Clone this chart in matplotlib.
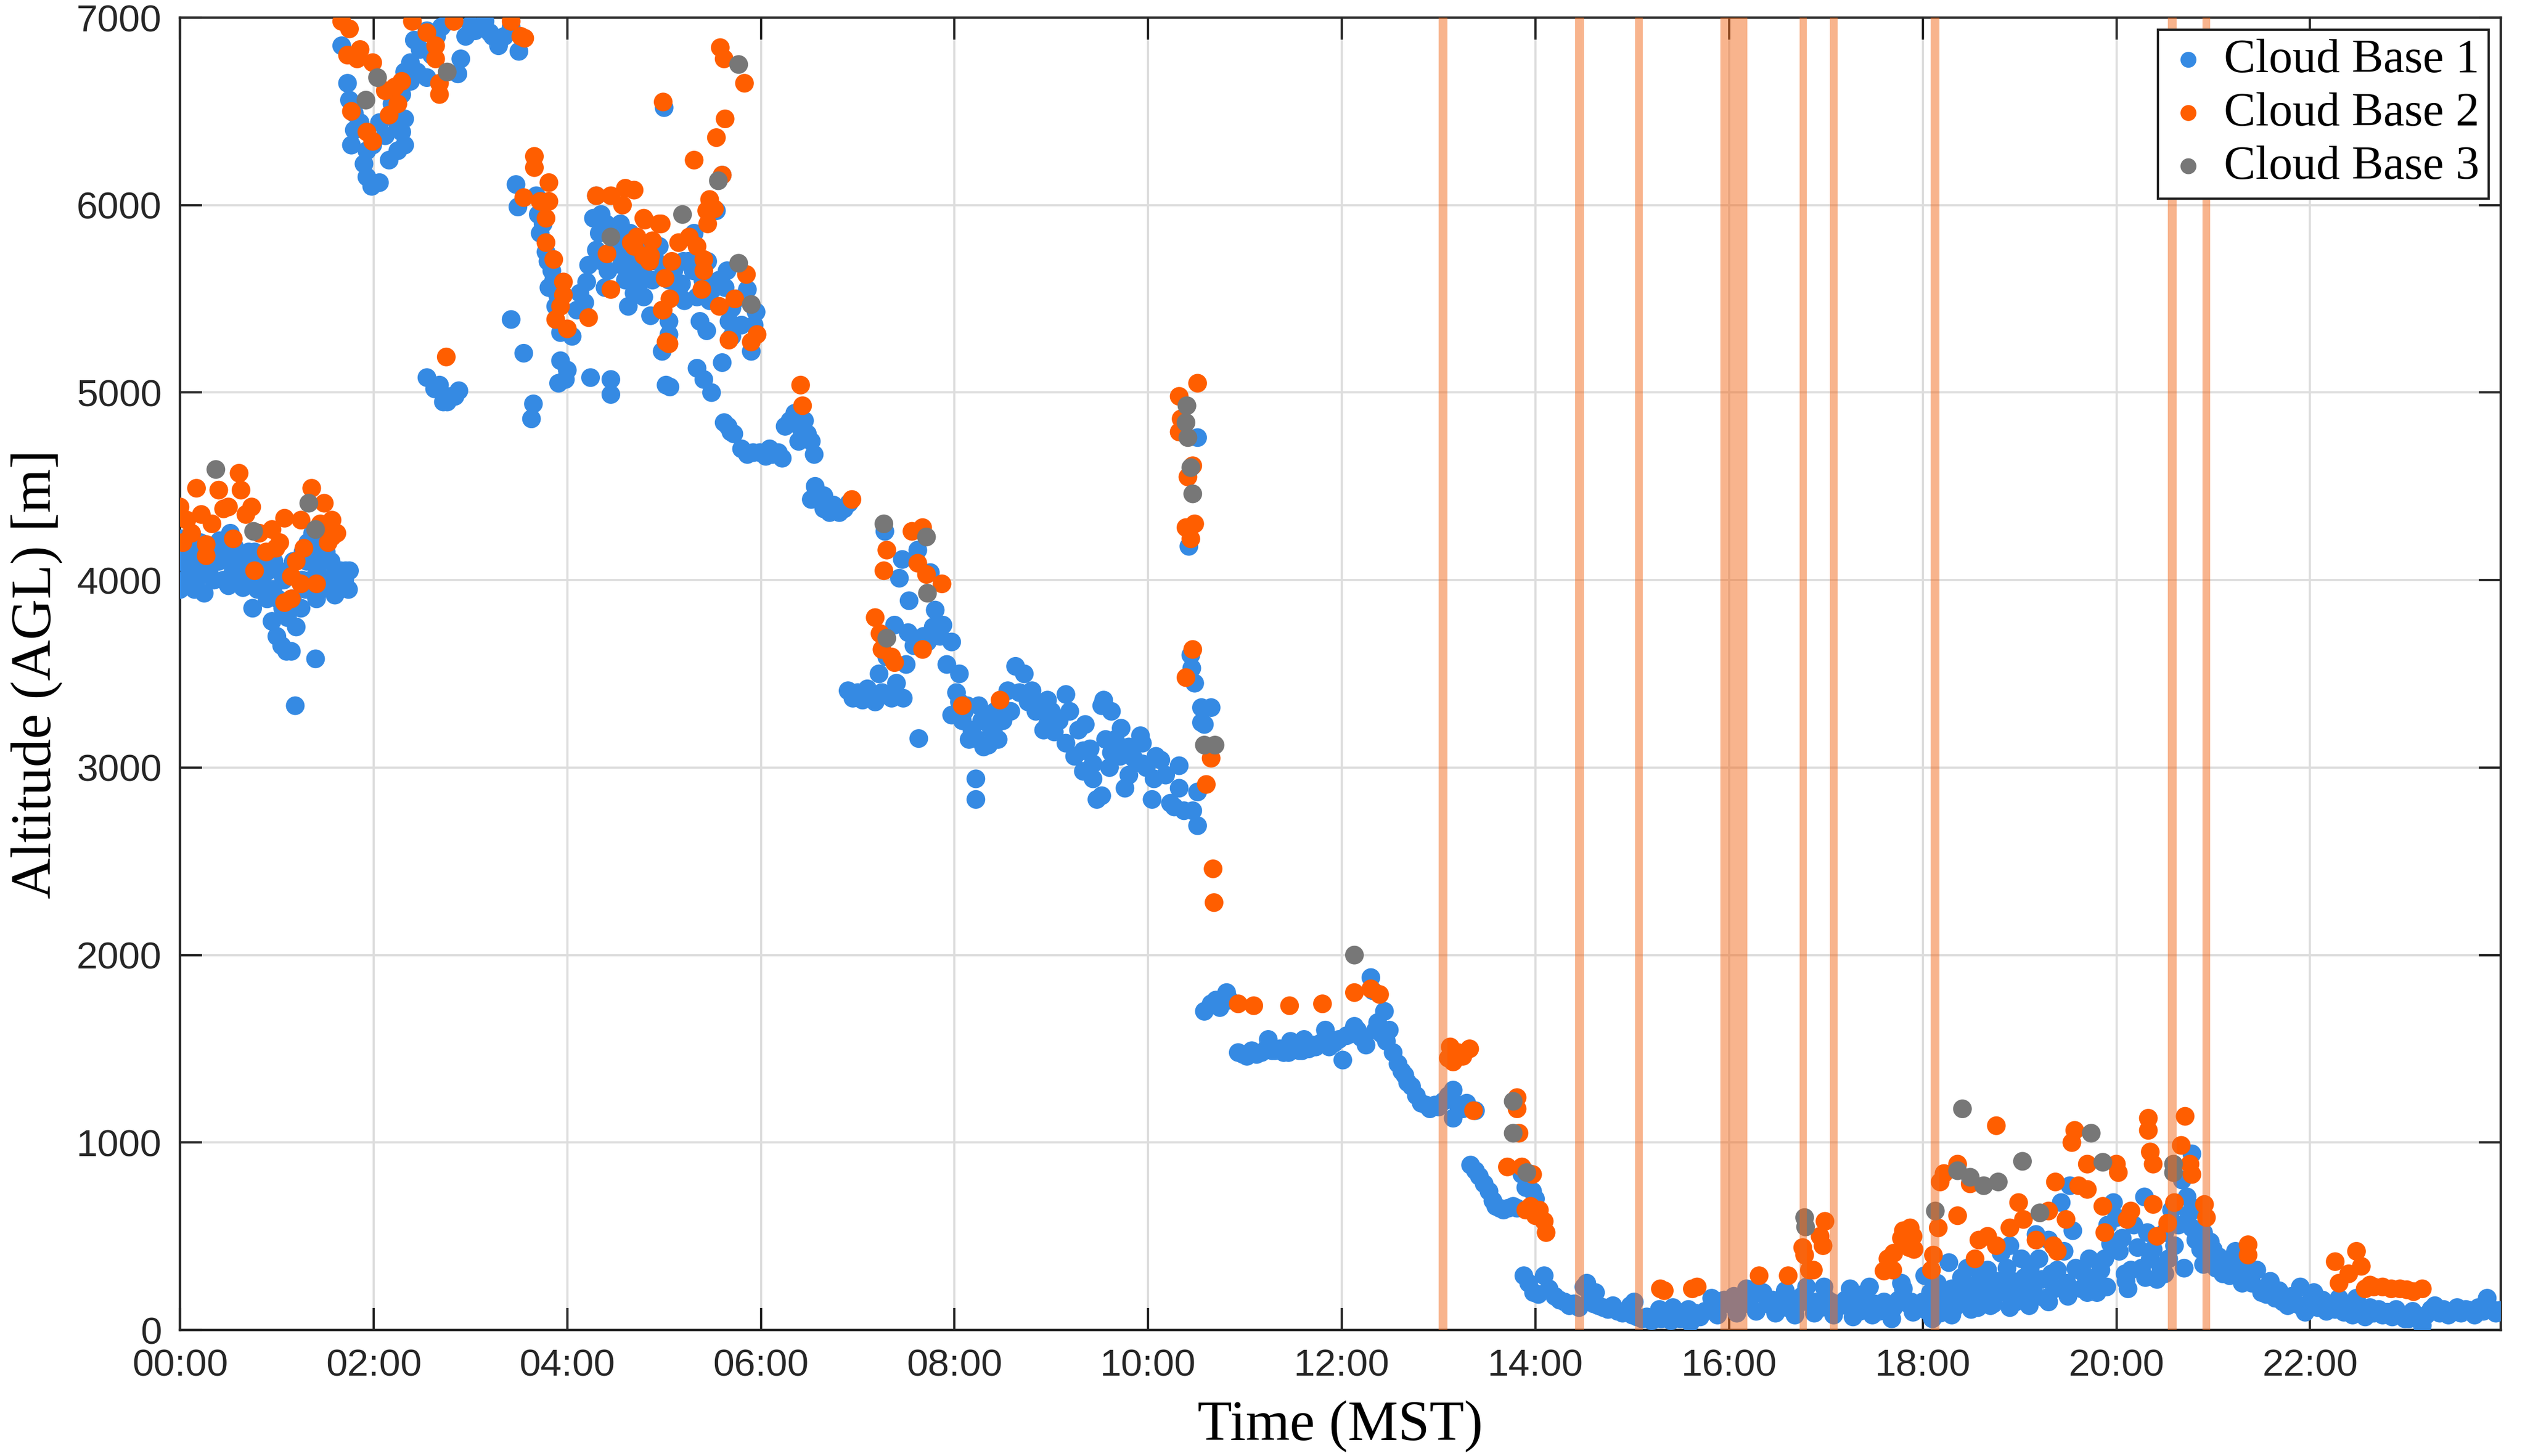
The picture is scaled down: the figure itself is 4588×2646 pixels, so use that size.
import matplotlib
matplotlib.use("Agg")
import matplotlib.pyplot as plt
from matplotlib.ticker import FixedLocator, FuncFormatter

# ceilometer cloud bases for one day, (hour MST, altitude AGL in m)
cb1_early = [
    (0.00, 3950), (0.00, 4100), (0.02, 4220), (0.05, 4000), (0.06, 4150), (0.10, 4050), (0.11, 4180),
    (0.15, 3950), (0.16, 4100), (0.20, 4020), (0.21, 4200), (0.25, 3930), (0.26, 4100), (0.30, 4050),
    (0.31, 4180), (0.35, 4000), (0.36, 4120), (0.40, 4100), (0.41, 4210), (0.45, 4000), (0.46, 4150),
    (0.50, 3970), (0.51, 4120), (0.52, 4250), (0.55, 4050), (0.56, 4180), (0.60, 4000), (0.61, 4130),
    (0.65, 3960), (0.66, 4100), (0.70, 4050), (0.71, 4150), (0.75, 3850), (0.76, 4000), (0.77, 4150),
    (0.80, 3950), (0.81, 4100), (0.85, 4000), (0.86, 4080), (0.90, 3900), (0.91, 4050), (0.95, 3780),
    (0.96, 3950), (0.97, 4100), (1.00, 3700), (1.01, 3900), (1.02, 4050), (1.05, 3650), (1.06, 3850),
    (1.07, 4000), (1.10, 3620), (1.11, 3800), (1.12, 4050), (1.15, 3620), (1.16, 3900), (1.17, 4100),
    (1.19, 3330), (1.20, 3750), (1.25, 3850), (1.26, 4000), (1.27, 4150), (1.30, 3950), (1.31, 4100),
    (1.32, 4200), (1.35, 4000), (1.36, 4150), (1.37, 4250), (1.40, 3580), (1.41, 3900), (1.42, 4050),
    (1.43, 4200), (1.45, 3950), (1.46, 4100), (1.47, 4200), (1.50, 4000), (1.51, 4150), (1.55, 3980),
    (1.56, 4100), (1.60, 3920), (1.61, 4050), (1.65, 3950), (1.66, 4050), (1.70, 4000), (1.71, 4050),
    (1.74, 3950), (1.75, 4050),
]
cb1_high = [
    (1.67, 6850), (1.73, 6650), (1.75, 6560), (1.77, 6320), (1.80, 6400), (1.80, 6490), (1.86, 6440),
    (1.90, 6220), (1.93, 6150), (1.93, 6290), (1.98, 6100), (1.99, 6320), (2.06, 6120), (2.06, 6440),
    (2.12, 6370), (2.16, 6240), (2.19, 6540), (2.22, 6460), (2.25, 6290), (2.25, 6420), (2.29, 6390),
    (2.29, 6590), (2.32, 6320), (2.32, 6460), (2.32, 6710), (2.38, 6660), (2.38, 6760), (2.42, 6880),
    (2.45, 6710), (2.48, 6830), (2.55, 6930), (2.55, 6680), (2.60, 6800), (2.65, 6900), (2.70, 6950),
    (2.77, 6980), (2.87, 6700), (2.90, 6780), (2.95, 6900), (3.00, 6960), (3.05, 6930), (3.10, 6950),
    (3.15, 6980), (3.20, 6920), (3.23, 6900), (3.29, 6850), (3.35, 6900), (3.42, 6950), (3.50, 6820),
    (2.55, 5080), (2.63, 5020), (2.68, 5040), (2.72, 4950), (2.76, 4950), (2.80, 4980), (2.84, 4980),
    (2.88, 5010),
]
cb1_descent = [
    (3.42, 5390), (3.47, 6110), (3.49, 5990), (3.55, 5210), (3.63, 4860), (3.65, 4940), (3.68, 6050),
    (3.70, 5950), (3.72, 5850), (3.75, 5900), (3.78, 5750), (3.80, 5700), (3.81, 5560), (3.84, 5650),
    (3.86, 5600), (3.88, 5460), (3.90, 5520), (3.91, 5050), (3.93, 5320), (3.93, 5170), (3.98, 5070),
    (4.00, 5120), (4.05, 5300), (4.10, 5440), (4.13, 5530), (4.18, 5480), (4.20, 5590), (4.22, 5680),
    (4.24, 5080), (4.27, 5930), (4.30, 5760), (4.30, 6050), (4.33, 5850), (4.36, 5700), (4.39, 5560),
    (4.42, 5650), (4.45, 5070), (4.45, 4990), (4.47, 5750), (4.50, 5850), (4.53, 5760), (4.56, 5680),
    (4.60, 5600), (4.63, 5460), (4.66, 5700), (4.69, 5530), (4.70, 5650), (4.73, 5560), (4.76, 5750),
    (4.79, 5510), (4.80, 5620), (4.86, 5410), (4.88, 5600), (4.92, 5700), (4.95, 5780), (4.98, 5220),
    (5.00, 6520), (5.02, 5040), (5.05, 5380), (5.05, 5310), (5.06, 5030), (5.10, 5650), (5.15, 5550),
    (5.18, 5580), (5.21, 5490), (5.25, 5700), (5.31, 5850), (5.34, 5510), (5.34, 5130), (5.37, 5380),
    (5.41, 5070), (5.44, 5330), (5.47, 5490), (5.49, 5000), (5.54, 5970), (5.57, 5600), (5.60, 6160),
    (5.60, 5160), (5.63, 5560), (5.67, 5380), (5.70, 5450), (5.75, 5500), (5.80, 5360), (5.86, 5550),
    (5.90, 5220), (5.93, 5360), (5.95, 5430), (4.35, 5950), (4.40, 5900), (4.55, 5900), (4.60, 5800),
    (4.65, 5850), (4.75, 5800), (4.85, 5750), (5.00, 5650), (5.05, 5600), (5.20, 5700), (5.30, 5650),
    (5.40, 5600), (5.45, 5700), (5.50, 5550), (5.65, 5650), (5.70, 5300),
]
cb1_mid = [
    (5.62, 4840), (5.66, 4820), (5.69, 4790), (5.72, 4780), (5.80, 4700), (5.86, 4670), (5.92, 4680),
    (5.99, 4680), (6.05, 4660), (6.09, 4700), (6.12, 4670), (6.18, 4680), (6.22, 4650), (6.25, 4820),
    (6.30, 4850), (6.35, 4890), (6.39, 4740), (6.42, 4800), (6.45, 4850), (6.48, 4780), (6.52, 4740),
    (6.55, 4670), (6.52, 4430), (6.56, 4500), (6.60, 4460), (6.65, 4450), (6.65, 4380), (6.71, 4360),
    (6.75, 4400), (6.81, 4360), (6.86, 4380), (6.91, 4410),
]
cb1_morning = [
    (6.90, 3410), (6.95, 3370), (7.00, 3400), (7.05, 3360), (7.10, 3420), (7.13, 3380), (7.18, 3350),
    (7.22, 3500), (7.25, 3400), (7.28, 4260), (7.30, 3590), (7.33, 3380), (7.35, 3370), (7.38, 3760),
    (7.40, 3450), (7.43, 4010), (7.46, 4110), (7.47, 3370), (7.50, 3550), (7.52, 3720), (7.53, 3890),
    (7.58, 3650), (7.62, 4160), (7.63, 3155), (7.68, 3700), (7.72, 3670), (7.75, 4040), (7.78, 3750),
    (7.80, 3840), (7.85, 3700), (7.88, 3760), (7.92, 3550), (7.97, 3670), (7.97, 3280), (8.02, 3400),
    (8.05, 3500), (8.08, 3250), (8.13, 3330), (8.18, 3200), (8.22, 3155), (8.22, 2940), (8.22, 2830),
    (8.25, 3330), (8.30, 3110), (8.33, 3250), (8.38, 3200), (8.42, 3300), (8.47, 3330), (8.50, 3250),
    (8.55, 3410), (8.58, 3300), (8.63, 3540), (8.67, 3400), (8.72, 3500), (8.76, 3350), (8.80, 3410),
    (8.84, 3300), (8.88, 3330), (8.92, 3200), (8.96, 3360), (8.96, 3230), (9.00, 3300), (9.03, 3190),
    (9.08, 3250), (9.15, 3390), (9.15, 3130), (9.19, 3300), (9.24, 3060), (9.28, 3200), (9.33, 2980),
    (9.33, 3090), (9.35, 3230), (9.40, 3100), (9.43, 2940), (9.43, 3020), (9.47, 2830), (9.52, 2850),
    (9.52, 3330), (9.54, 3360), (9.56, 3150), (9.60, 3000), (9.62, 3080), (9.62, 3300), (9.66, 3150),
    (9.71, 3060), (9.72, 3210), (9.76, 2890), (9.80, 2960), (9.80, 3110), (9.85, 3050), (9.92, 3170),
    (9.94, 3130), (9.94, 3020), (9.98, 3000), (10.04, 2830), (10.06, 2940), (10.08, 3060), (10.13, 3040),
    (10.18, 2960), (10.23, 2810), (10.27, 2790), (10.32, 2890), (10.32, 3010), (10.37, 2770),
    (10.46, 2770), (10.51, 2870), (10.51, 2690), (8.05, 3350), (8.10, 3300), (8.15, 3150), (8.28, 3250),
    (8.35, 3120), (8.40, 3200), (8.45, 3150),
]
cb1_column = [
    (10.42, 4180), (10.44, 3600), (10.45, 3530), (10.48, 3450), (10.51, 4760), (10.55, 3320),
    (10.55, 3240), (10.58, 3230), (10.65, 3320), (10.58, 1700), (10.65, 1740), (10.70, 1760),
    (10.74, 1720), (10.78, 1750), (10.81, 1800), (10.84, 1760),
]
cb1_noon = [
    (10.93, 1480), (10.98, 1470), (11.02, 1460), (11.07, 1490), (11.12, 1470), (11.17, 1480),
    (11.22, 1500), (11.24, 1550), (11.28, 1490), (11.31, 1490), (11.36, 1500), (11.40, 1480),
    (11.45, 1480), (11.47, 1540), (11.52, 1500), (11.56, 1490), (11.59, 1490), (11.61, 1550),
    (11.66, 1500), (11.70, 1520), (11.73, 1510), (11.78, 1530), (11.83, 1600), (11.87, 1510),
    (11.92, 1530), (11.97, 1550), (12.01, 1440), (12.05, 1570), (12.10, 1580), (12.13, 1620),
    (12.16, 1600), (12.20, 1560), (12.25, 1520), (12.30, 1880), (12.32, 1810), (12.35, 1600),
    (12.37, 1640), (12.41, 1580), (12.44, 1700), (12.46, 1540), (12.49, 1600), (12.53, 1480),
    (12.58, 1420), (12.62, 1380), (12.65, 1360), (12.68, 1320), (12.72, 1300), (12.77, 1250),
    (12.82, 1210), (12.87, 1200), (12.91, 1180), (12.96, 1200), (13.00, 1190), (13.05, 1220),
    (13.10, 1250), (13.15, 1280), (13.15, 1130), (13.20, 1200), (13.25, 1180), (13.29, 1210),
    (13.33, 880), (13.38, 1170), (13.38, 850), (13.42, 820), (13.47, 780), (13.52, 740), (13.56, 690),
    (13.59, 660), (13.63, 650), (13.67, 640), (13.72, 650), (13.77, 660), (13.81, 650), (13.86, 830),
    (13.90, 760), (13.97, 740), (14.00, 700),
]
cb1_afternoon = [
    (13.88, 290), (13.93, 250), (13.98, 200), (14.03, 190), (14.09, 290), (14.14, 220), (14.20, 180),
    (14.25, 160), (14.30, 150), (14.35, 130), (14.40, 140), (14.45, 120), (14.50, 230), (14.53, 250),
    (14.56, 160), (14.60, 140), (14.65, 130), (14.70, 120), (14.75, 110), (14.80, 130), (14.85, 100),
    (14.90, 90), (14.95, 100), (15.00, 80), (15.05, 70), (15.10, 60), (15.15, 70), (15.20, 50),
    (15.25, 70), (15.30, 60), (15.35, 80), (15.40, 50), (15.45, 70), (15.50, 60), (15.55, 80),
    (15.60, 40), (15.65, 90), (15.70, 70), (15.75, 100), (15.80, 110), (15.85, 130), (15.90, 150),
    (15.95, 160), (16.00, 140), (16.05, 180), (16.10, 150), (16.15, 170), (16.20, 140), (16.25, 190),
    (16.30, 210), (16.35, 200), (16.40, 140), (16.45, 160), (16.50, 130), (16.55, 170), (16.60, 120),
    (16.65, 150), (16.70, 130), (16.75, 180), (16.80, 230), (16.85, 140), (16.90, 150), (16.95, 120),
    (17.00, 170), (17.05, 150), (17.10, 140), (17.15, 130), (17.20, 160), (17.25, 220), (17.30, 130),
    (17.35, 100), (17.40, 120), (17.45, 230), (17.50, 140), (17.55, 100), (17.60, 150), (17.65, 100),
    (17.70, 120), (17.75, 160), (17.80, 220), (17.85, 140), (17.90, 95), (17.95, 130),
    (14.98, 130), (15.28, 110), (15.58, 110), (15.88, 80), (16.08, 90), (16.28, 100), (16.48, 90),
    (16.68, 80), (16.88, 90), (17.08, 80), (17.28, 70), (17.48, 80), (17.68, 60), (17.88, 150),
    (14.62, 200), (15.02, 150), (15.42, 120), (15.82, 170), (16.18, 220), (16.58, 210), (16.98, 230),
    (17.38, 190), (17.78, 250),
]
cb1_evening = [
    (18.00, 150), (18.02, 290), (18.05, 100), (18.08, 200), (18.12, 130), (18.15, 250), (18.18, 90),
    (18.22, 180), (18.25, 130), (18.27, 360), (18.30, 220), (18.33, 120), (18.36, 210), (18.40, 280),
    (18.43, 150), (18.46, 330), (18.50, 200), (18.54, 240), (18.57, 120), (18.60, 300), (18.63, 180),
    (18.67, 320), (18.70, 230), (18.73, 140), (18.76, 260), (18.81, 410), (18.84, 200), (18.87, 330),
    (18.90, 450), (18.93, 260), (18.96, 150), (18.99, 210), (19.02, 380), (19.05, 280), (19.08, 170),
    (19.11, 330), (19.14, 230), (19.17, 510), (19.20, 380), (19.23, 270), (19.26, 170), (19.30, 480),
    (19.33, 300), (19.36, 220), (19.39, 320), (19.43, 680), (19.46, 420), (19.49, 250), (19.52, 770),
    (19.55, 530), (19.58, 330), (19.61, 320), (19.64, 220), (19.68, 290), (19.72, 380), (19.76, 250),
    (19.80, 200), (19.84, 320), (19.88, 380), (19.91, 560), (19.94, 460), (19.97, 680), (20.00, 600),
    (20.03, 420), (20.06, 490), (20.09, 300), (20.12, 220), (20.15, 320), (20.18, 560), (20.22, 440),
    (20.26, 330), (20.29, 710), (20.32, 520), (20.35, 380), (20.38, 430), (20.42, 270), (20.46, 330),
    (20.50, 520), (20.54, 380), (20.57, 640), (20.60, 450), (20.64, 560), (20.68, 800), (20.73, 710),
    (20.75, 620), (20.78, 940), (20.78, 545), (20.82, 480), (20.85, 650), (20.87, 430), (20.90, 520),
    (20.94, 380), (20.97, 470), (21.00, 430), (21.03, 330), (21.06, 390), (21.09, 320), (21.13, 360),
    (21.17, 290), (21.20, 330), (21.23, 420), (21.27, 300), (21.32, 340), (21.36, 280), (21.40, 250),
    (21.45, 320), (21.50, 220), (21.55, 190), (21.59, 260), (21.64, 170), (21.68, 210), (21.72, 150),
    (21.77, 130), (21.81, 180), (21.86, 140), (21.90, 230), (21.95, 95), (22.00, 150), (22.04, 200),
    (22.08, 120), (22.13, 160), (22.17, 100), (22.22, 140), (22.26, 110), (22.30, 170), (22.35, 95),
    (22.40, 130), (22.44, 80), (22.48, 170), (22.53, 110), (22.57, 70), (22.62, 120), (22.66, 90),
    (22.71, 110), (22.75, 80), (22.80, 95), (22.85, 70), (22.89, 110), (22.94, 80), (22.98, 60),
    (23.02, 60), (23.06, 100), (23.10, 70), (23.16, 25), (23.20, 80), (23.25, 110), (23.29, 130),
    (23.34, 90), (23.38, 110), (23.43, 80), (23.47, 95), (23.52, 120), (23.56, 90), (23.61, 110),
    (23.65, 105), (23.70, 80), (23.74, 120), (23.79, 100), (23.83, 170), (23.88, 110), (23.92, 90),
    (23.96, 105),
    (18.10, 60), (18.30, 80), (18.50, 110), (18.70, 130), (18.90, 120), (19.10, 130), (19.30, 150),
    (19.50, 180), (19.70, 200), (19.90, 230), (20.10, 260), (20.30, 280), (20.50, 300), (20.70, 330),
    (20.90, 350), (21.10, 300), (21.30, 250), (21.50, 200), (21.70, 160), (21.90, 130),
]

cb2_early = [
    (0.00, 4390), (0.03, 4200), (0.07, 4320), (0.12, 4250), (0.17, 4490), (0.22, 4350), (0.27, 4130),
    (0.27, 4190), (0.33, 4300), (0.40, 4480), (0.45, 4380), (0.50, 4390), (0.55, 4220), (0.61, 4570),
    (0.63, 4480), (0.68, 4350), (0.74, 4390), (0.77, 4050), (0.82, 4250), (0.89, 4150), (0.95, 4270),
    (0.99, 4170), (1.03, 4200), (1.08, 4330), (1.08, 3880), (1.15, 3900), (1.15, 4020), (1.20, 4100),
    (1.25, 3980), (1.25, 4320), (1.28, 4170), (1.36, 4490), (1.41, 3980), (1.45, 4300), (1.49, 4410),
    (1.53, 4200), (1.57, 4320), (1.57, 4230), (1.62, 4250),
]
cb2_high = [
    (1.67, 6980), (1.75, 6940), (1.73, 6800), (1.83, 6780), (1.86, 6830), (1.99, 6760), (1.77, 6500),
    (1.93, 6390), (1.99, 6340), (2.16, 6480), (2.12, 6610), (2.22, 6630), (2.29, 6660), (2.25, 6540),
    (2.40, 6980), (2.55, 6920), (2.64, 6850), (2.64, 6780), (2.68, 6650), (2.68, 6590), (2.83, 6980),
    (3.42, 6980), (3.52, 6900), (3.56, 6890), (2.75, 5190),
]
cb2_descent = [
    (3.66, 6260), (3.66, 6200), (3.81, 6120), (3.55, 6040), (3.72, 6020), (3.81, 6020), (3.78, 5930),
    (3.78, 5800), (3.86, 5710), (3.96, 5590), (3.96, 5520), (3.93, 5460), (3.88, 5390), (4.00, 5340),
    (4.22, 5400), (4.30, 6050), (4.45, 6050), (4.60, 6090), (4.45, 5550), (4.41, 5740), (4.79, 5930),
    (4.95, 5900), (4.57, 6000), (4.66, 5800), (4.86, 5730), (4.99, 6550), (4.99, 5440), (5.02, 5270),
    (5.63, 6460), (5.54, 6360), (5.31, 6240), (4.69, 6080), (4.80, 5920), (4.97, 5900), (4.72, 5830),
    (4.88, 5810), (5.15, 5800), (5.26, 5830), (5.34, 5780), (5.41, 5710), (5.44, 5970), (5.47, 6030),
    (5.52, 5980), (5.45, 5900), (5.60, 6160), (4.85, 5700), (5.08, 5700), (5.01, 5610), (5.41, 5650),
    (5.85, 5630), (5.73, 5500), (5.57, 5460), (5.39, 5550), (5.06, 5500), (4.98, 5440), (5.67, 5280),
    (5.90, 5270), (5.96, 5310), (5.05, 5260), (4.79, 5730), (4.69, 5780), (5.58, 6840), (5.62, 6780),
    (5.83, 6650),
]
cb2_morning = [
    (6.41, 5040), (6.43, 4930), (6.94, 4430), (7.56, 4260), (7.67, 4280), (7.30, 4160), (7.27, 4050),
    (7.62, 4090), (7.71, 4030), (7.87, 3980), (7.18, 3800), (7.23, 3715), (7.25, 3630), (7.35, 3590),
    (7.38, 3560), (7.67, 3630), (8.08, 3330), (8.47, 3360),
    (10.51, 5050), (10.32, 4980), (10.34, 4860), (10.32, 4790), (10.46, 4610), (10.41, 4550),
    (10.39, 4280), (10.48, 4300), (10.44, 4220), (10.46, 3630), (10.39, 3480), (10.65, 3050),
    (10.60, 2910), (10.67, 2460), (10.68, 2280),
]
cb2_afternoon = [
    (10.93, 1740), (11.09, 1730), (11.46, 1730), (11.80, 1740), (12.13, 1800), (12.30, 1820),
    (12.39, 1790), (13.12, 1510), (13.15, 1430), (13.32, 1500), (13.10, 1450), (13.20, 1480),
    (13.25, 1460), (13.81, 1240), (13.81, 1180), (13.83, 1050), (13.71, 870), (13.86, 870), (13.97, 830),
    (13.90, 640), (14.04, 640), (14.09, 580), (14.11, 520), (13.36, 1170), (13.95, 660), (14.00, 610),
    (15.29, 220), (15.33, 210), (15.62, 220), (15.67, 230), (16.31, 290), (16.61, 290), (16.76, 440),
    (16.78, 400), (16.83, 320), (16.87, 320), (16.94, 500), (16.97, 450), (16.99, 580), (17.60, 315),
    (17.64, 380), (17.69, 320), (17.70, 410), (17.78, 490), (17.80, 530), (17.86, 440), (17.87, 545),
    (17.90, 500), (17.91, 430),
]
cb2_evening = [
    (18.09, 320), (18.11, 400), (18.16, 545), (18.18, 790), (18.22, 835), (18.36, 885), (18.36, 610),
    (18.49, 780), (18.76, 1090), (18.54, 380), (18.58, 480), (18.67, 500), (18.76, 450), (18.90, 545),
    (18.99, 680), (19.04, 590), (19.17, 480), (19.35, 450), (19.39, 420), (19.37, 790), (19.30, 635),
    (19.48, 590), (19.57, 1065), (19.54, 1000), (19.61, 770), (19.70, 750), (19.70, 885), (19.88, 520),
    (19.86, 660), (20.00, 885), (20.02, 840), (20.15, 635), (20.11, 590), (20.33, 1130), (20.33, 1065),
    (20.35, 950), (20.38, 885), (20.38, 670), (20.42, 500), (20.53, 570), (20.60, 680), (20.67, 985),
    (20.71, 1140), (20.76, 885), (20.78, 830), (20.91, 670), (20.93, 600), (21.36, 455), (21.36, 400),
    (22.26, 365), (22.30, 250), (22.48, 420), (22.53, 340), (22.57, 220), (22.66, 230), (22.75, 230),
    (22.84, 220), (22.93, 220), (23.00, 215), (23.07, 205), (23.16, 220), (22.40, 300), (22.62, 240),
]

cb3_all = [
    (0.37, 4590), (0.76, 4260), (1.33, 4410), (1.40, 4270), (1.92, 6560), (2.04, 6680), (2.76, 6710),
    (4.45, 5830), (5.19, 5950), (5.56, 6130), (5.77, 5690), (5.90, 5470), (5.77, 6750), (7.27, 4300),
    (7.71, 4230), (7.72, 3930), (7.30, 3690), (10.40, 4930), (10.39, 4840), (10.41, 4760),
    (10.44, 4600), (10.46, 4460), (10.58, 3120), (10.69, 3120), (12.13, 2000), (13.77, 1220),
    (13.77, 1050), (13.91, 840), (16.78, 600), (16.79, 550), (18.41, 1180), (19.03, 900), (19.74, 1050),
    (19.86, 895), (19.21, 625), (18.13, 635), (18.36, 850), (18.49, 815), (18.63, 770), (18.78, 790),
    (20.59, 885), (20.59, 840),
]

# shaded intervals (hours)
bands = [
    (13.00, 13.09), (14.41, 14.50), (15.03, 15.11), (15.91, 15.98), (15.98, 16.19), (16.73, 16.80),
    (17.04, 17.12), (18.08, 18.17), (20.53, 20.62), (20.89, 20.97),
]

series = [
    ("Cloud Base 1", [cb1_early, cb1_high, cb1_descent, cb1_mid, cb1_morning, cb1_column,
                      cb1_noon, cb1_afternoon, cb1_evening], "#358AE3"),
    ("Cloud Base 2", [cb2_early, cb2_high, cb2_descent, cb2_morning, cb2_afternoon, cb2_evening],
     "#FF5E00"),
    ("Cloud Base 3", [cb3_all], "#777777"),
]

fig = plt.figure(figsize=(22.94, 13.23), dpi=200)
ax = fig.add_axes([0.0713, 0.0865, 0.9191, 0.9014])

for name, parts, color in series:
    pts = [p for part in parts for p in part]
    ax.scatter([p[0] for p in pts], [p[1] for p in pts], s=150, color=color,
               edgecolors="none", label=name, zorder=3)

for x0, x1 in bands:
    ax.axvspan(x0, x1, color="#F26A1C", alpha=0.5, lw=0, zorder=4)

ax.set_xlim(0, 23.97)
ax.set_ylim(0, 7000)
ax.xaxis.set_major_locator(FixedLocator(range(0, 24, 2)))
ax.xaxis.set_major_formatter(FuncFormatter(lambda v, _: f"{int(v):02d}:00"))
ax.set_yticks(range(0, 7001, 1000))

ax.grid(True, color="#DDDDDD", lw=1.4, zorder=0)
ax.set_axisbelow(True)
for sp in ax.spines.values():
    sp.set_linewidth(1.6)
    sp.set_color("#262626")
ax.tick_params(direction="in", length=14.5, width=1.5, top=True, right=True,
               labelsize=25, pad=12, colors="#262626")
for lbl in ax.get_xticklabels() + ax.get_yticklabels():
    lbl.set_fontfamily("Liberation Sans")
    lbl.set_color("#262626")

ax.set_xlabel("Time (MST)", fontfamily="Liberation Serif", fontsize=37, labelpad=11)
ax.set_ylabel("Altitude (AGL) [m]", fontfamily="Liberation Serif", fontsize=37, labelpad=9)

leg = ax.legend(loc="upper right", prop={"family": "Liberation Serif", "size": 31},
                frameon=True, fancybox=False, framealpha=1, edgecolor="#262626",
                borderaxespad=0.25, handletextpad=0.3, labelspacing=0.2, borderpad=0.2,
                handlelength=0.9, markerscale=0.85)
leg.get_frame().set_linewidth(1.5)
leg.set_zorder(10)

fig.savefig("out.png", dpi=200)
